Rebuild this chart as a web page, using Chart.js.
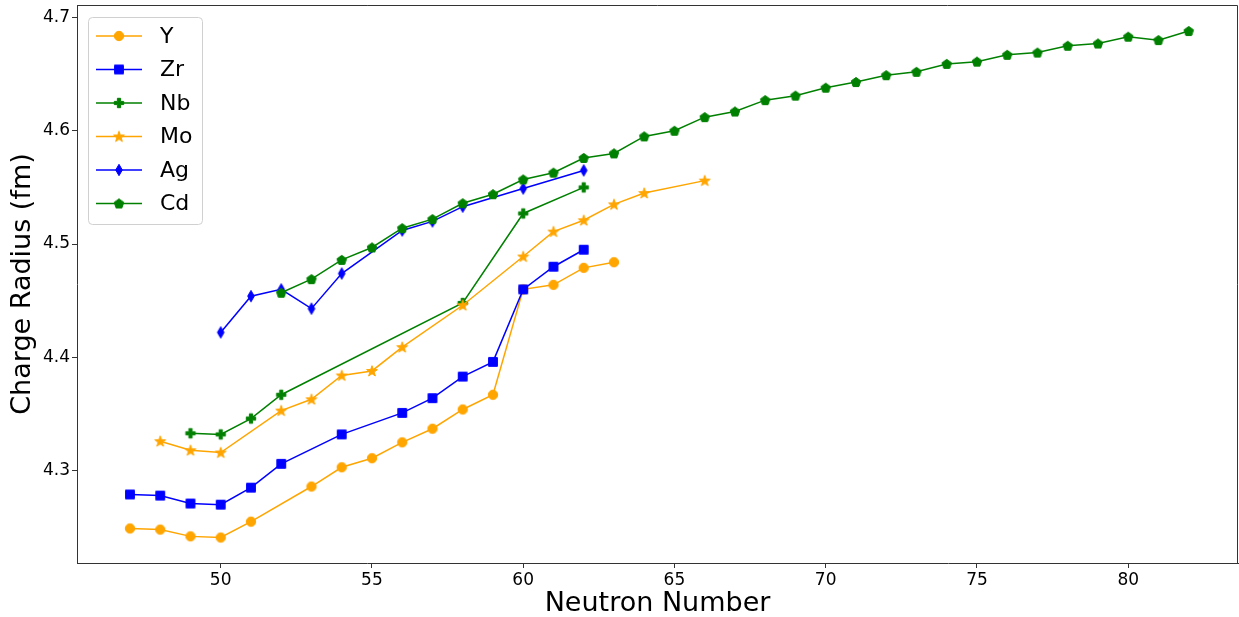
<!DOCTYPE html>
<html>
<head>
    <title>Charge Radius</title>
    <script src="https://cdn.jsdelivr.net/npm/chart.js@4.4.1/dist/chart.umd.min.js"></script>
    <style>
        body { margin: 0; background: #fff; }
        canvas { display: block; }
    </style>
</head>
<body>
    <canvas id="radiusChart" width="1239" height="617"></canvas>

    <script>
        // Neutron number / charge radius (fm) per element
        const yN  = [47, 48, 49, 50, 51, 53, 54, 55, 56, 57, 58, 59, 60, 61, 62, 63];
        const yR  = [4.249, 4.248, 4.242, 4.241, 4.255, 4.286, 4.303, 4.311, 4.325, 4.337, 4.354, 4.367, 4.460, 4.464, 4.479, 4.484];

        const zrN = [47, 48, 49, 50, 51, 52, 54, 56, 57, 58, 59, 60, 61, 62];
        const zrR = [4.279, 4.278, 4.271, 4.270, 4.285, 4.306, 4.332, 4.351, 4.364, 4.383, 4.396, 4.460, 4.480, 4.495];

        const nbN = [49, 50, 51, 52, 58, 60, 62];
        const nbR = [4.333, 4.332, 4.346, 4.367, 4.448, 4.527, 4.550];

        const moN = [48, 49, 50, 52, 53, 54, 55, 56, 58, 60, 61, 62, 63, 64, 66];
        const moR = [4.326, 4.318, 4.316, 4.353, 4.363, 4.384, 4.388, 4.409, 4.446, 4.489, 4.511, 4.521, 4.535, 4.545, 4.556];

        const agN = [50, 51, 52, 53, 54, 56, 57, 58, 60, 62];
        const agR = [4.422, 4.454, 4.460, 4.443, 4.474, 4.512, 4.520, 4.533, 4.549, 4.565];

        const cdN = [52, 53, 54, 55, 56, 57, 58, 59, 60, 61, 62, 63, 64, 65, 66, 67,
                     68, 69, 70, 71, 72, 73, 74, 75, 76, 77, 78, 79, 80, 81, 82];
        const cdR = [4.457, 4.469, 4.486, 4.497, 4.514, 4.522, 4.536, 4.544, 4.557, 4.563, 4.576, 4.580, 4.595, 4.600, 4.612, 4.617,
                     4.627, 4.631, 4.638, 4.643, 4.649, 4.652, 4.659, 4.661, 4.667, 4.669, 4.675, 4.677, 4.683, 4.680, 4.688];

        const xTicks = [50, 55, 60, 65, 70, 75, 80];
        const yTicks = [4.3, 4.4, 4.5, 4.6, 4.7];

        const FONT = 'DejaVu Sans';

        // matplotlib-like filled markers drawn into small canvases
        function marker(shape, color) {
            const c = document.createElement('canvas');
            c.width = 16; c.height = 16;
            const g = c.getContext('2d');
            g.translate(8, 8);
            g.fillStyle = color;
            g.strokeStyle = color;
            g.lineWidth = 1;
            g.lineJoin = 'miter';
            g.beginPath();
            const poly = pts => { g.moveTo(pts[0][0], pts[0][1]); pts.slice(1).forEach(p => g.lineTo(p[0], p[1])); };
            if (shape === 'circle') {
                g.arc(0, 0, 4.7, 0, Math.PI * 2);
            } else if (shape === 'square') {
                g.rect(-4.4, -4.4, 8.8, 8.8);
            } else if (shape === 'plus') {
                const a = 1.6, b = 4.7;
                poly([[-a, -b], [a, -b], [a, -a], [b, -a], [b, a], [a, a], [a, b], [-a, b], [-a, a], [-b, a], [-b, -a], [-a, -a]]);
            } else if (shape === 'star') {
                const pts = [];
                for (let i = 0; i < 10; i++) {
                    const r = i % 2 ? 2.3 : 5.7;
                    const t = -Math.PI / 2 + i * Math.PI / 5;
                    pts.push([r * Math.cos(t), r * Math.sin(t) + 0.4]);
                }
                poly(pts);
            } else if (shape === 'thin_diamond') {
                poly([[0, -5.7], [3.3, 0], [0, 5.7], [-3.3, 0]]);
            } else if (shape === 'pentagon') {
                const pts = [];
                for (let i = 0; i < 5; i++) {
                    const t = -Math.PI / 2 + i * 2 * Math.PI / 5;
                    pts.push([5 * Math.cos(t), 5 * Math.sin(t) + 0.4]);
                }
                poly(pts);
            }
            g.closePath();
            g.fill();
            g.stroke();
            return c;
        }

        const series = [
            { label: 'Y',  n: yN,  r: yR,  color: '#FFA500', shape: 'circle' },
            { label: 'Zr', n: zrN, r: zrR, color: '#0000FF', shape: 'square' },
            { label: 'Nb', n: nbN, r: nbR, color: '#008000', shape: 'plus' },
            { label: 'Mo', n: moN, r: moR, color: '#FFA500', shape: 'star' },
            { label: 'Ag', n: agN, r: agR, color: '#0000FF', shape: 'thin_diamond' },
            { label: 'Cd', n: cdN, r: cdR, color: '#008000', shape: 'pentagon' }
        ];
        series.forEach(s => { s.img = marker(s.shape, s.color); });

        // legend box in the upper-left corner, line + marker like matplotlib
        const legendBox = {
            id: 'legendBox',
            afterDraw(chart) {
                const ctx = chart.ctx;
                ctx.save();
                ctx.fillStyle = 'rgba(255,255,255,0.8)';
                ctx.strokeStyle = '#d0d0d0';
                ctx.lineWidth = 1;
                ctx.beginPath();
                ctx.roundRect(88.5, 17.5, 114, 207, 4);
                ctx.fill();
                ctx.stroke();
                ctx.font = '22px "' + FONT + '"';
                ctx.textBaseline = 'middle';
                series.forEach((s, i) => {
                    const y = 36 + i * 33.5;
                    ctx.strokeStyle = s.color;
                    ctx.lineWidth = 1.5;
                    ctx.beginPath();
                    ctx.moveTo(96, y);
                    ctx.lineTo(142, y);
                    ctx.stroke();
                    ctx.drawImage(s.img, 119 - 8, y - 8);
                    ctx.fillStyle = '#000';
                    ctx.fillText(s.label, 160, y + 1);
                });
                ctx.restore();
            }
        };

        // top and right spines
        const frame = {
            id: 'frame',
            afterDraw(chart) {
                const a = chart.chartArea, ctx = chart.ctx;
                ctx.save();
                ctx.strokeStyle = '#333';
                ctx.lineWidth = 1;
                ctx.beginPath();
                ctx.moveTo(a.left, a.top + 0.5);
                ctx.lineTo(a.right - 0.5, a.top + 0.5);
                ctx.lineTo(a.right - 0.5, a.bottom);
                ctx.stroke();
                ctx.restore();
            }
        };

        const axisGrid = { drawOnChartArea: false, drawTicks: true, tickLength: 5, color: '#333', lineWidth: 1 };
        const axisBorder = { display: true, color: '#333', width: 1 };

        const ctx = document.getElementById('radiusChart').getContext('2d');
        const chart = new Chart(ctx, {
            type: 'line',
            data: {
                datasets: series.map((s, i) => ({
                    label: s.label,
                    data: s.n.map((v, k) => ({ x: v, y: s.r[k] })),
                    borderColor: s.color,
                    backgroundColor: s.color,
                    borderWidth: 1.5,
                    pointStyle: s.img,
                    pointRadius: 5,
                    tension: 0,
                    fill: false,
                    order: series.length - i
                }))
            },
            options: {
                responsive: false,
                animation: false,
                devicePixelRatio: 1,
                events: [],
                layout: { autoPadding: false, padding: { top: 5, right: 1, bottom: 0, left: 0 } },
                plugins: { legend: { display: false }, tooltip: { enabled: false } },
                scales: {
                    x: {
                        type: 'linear',
                        min: 45.25,
                        max: 83.63,
                        afterBuildTicks: s => { s.ticks = xTicks.map(v => ({ value: v })); },
                        afterFit: s => { s.height = 54; s.paddingLeft = 0; s.paddingRight = 0; },
                        grid: axisGrid,
                        border: axisBorder,
                        ticks: { font: { family: FONT, size: 17 }, color: '#000', padding: 2, maxRotation: 0 },
                        title: { display: true, text: 'Neutron Number', color: '#000',
                                 font: { family: FONT, size: 27 }, padding: { top: 0, bottom: -3 } }
                    },
                    y: {
                        type: 'linear',
                        min: 4.2185,
                        max: 4.711,
                        afterBuildTicks: s => { s.ticks = yTicks.map(v => ({ value: v })); },
                        afterFit: s => { s.width = 77; s.paddingTop = 0; s.paddingBottom = 0; },
                        grid: axisGrid,
                        border: axisBorder,
                        ticks: { font: { family: FONT, size: 17 }, color: '#000', padding: 2,
                                 callback: v => v.toFixed(1) },
                        title: { display: true, text: 'Charge Radius (fm)', color: '#000',
                                 font: { family: FONT, size: 27 }, padding: { top: 7, bottom: 0 } }
                    }
                }
            },
            plugins: [legendBox, frame]
        });
    </script>
</body>
</html>
